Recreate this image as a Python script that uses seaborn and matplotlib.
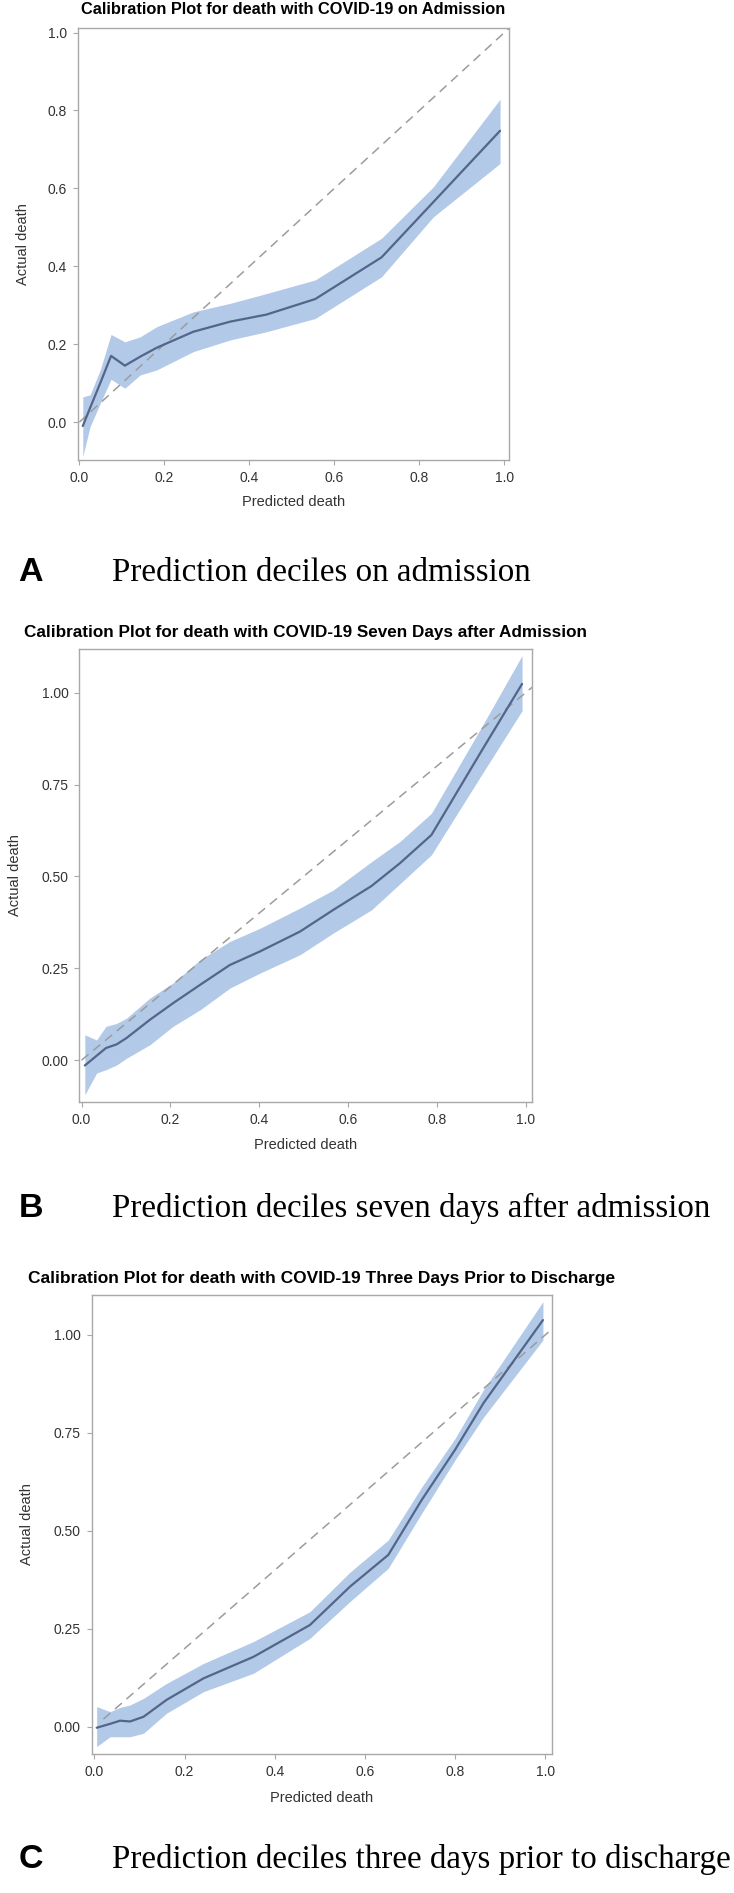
import numpy as np
import seaborn as sns
import matplotlib.pyplot as plt
from matplotlib.ticker import FormatStrFormatter


# panel A - on admission
a_pred = [0.008, 0.025, 0.049, 0.0745, 0.107, 0.143, 0.182, 0.268, 0.355, 0.44, 0.555, 0.711, 0.833, 0.99]
a_fit = [-0.01, 0.036, 0.10, 0.17, 0.145, 0.168, 0.191, 0.232, 0.258, 0.276, 0.316, 0.423, 0.565, 0.748]
a_low = [-0.088, -0.012, 0.048, 0.110, 0.087, 0.121, 0.134, 0.181, 0.211, 0.232, 0.266, 0.373, 0.527, 0.664]
a_upp = [0.065, 0.070, 0.134, 0.225, 0.206, 0.219, 0.245, 0.283, 0.305, 0.330, 0.365, 0.472, 0.604, 0.829]

# panel B - seven days after admission
b_pred = [0.0075, 0.034, 0.055, 0.079, 0.101, 0.154, 0.206, 0.267, 0.334, 0.402, 0.492, 0.567, 0.653, 0.717, 0.788, 0.90, 0.992]
b_fit = [-0.0145, 0.012, 0.033, 0.043, 0.06, 0.11, 0.155, 0.205, 0.259, 0.296, 0.35, 0.409, 0.474, 0.536, 0.613, 0.84, 1.024]
b_low = [-0.094, -0.035, -0.026, -0.013, 0.005, 0.042, 0.092, 0.137, 0.196, 0.237, 0.287, 0.346, 0.409, 0.48, 0.559, 0.775, 0.951]
b_upp = [0.069, 0.055, 0.092, 0.10, 0.114, 0.169, 0.21, 0.273, 0.323, 0.359, 0.414, 0.463, 0.54, 0.595, 0.672, 0.905, 1.101]

# panel C - three days prior to discharge
c_pred = [0.005, 0.035, 0.057, 0.079, 0.109, 0.16, 0.242, 0.353, 0.478, 0.567, 0.652, 0.726, 0.8, 0.863, 0.995]
c_fit = [-0.002, 0.008, 0.016, 0.014, 0.026, 0.069, 0.124, 0.179, 0.26, 0.358, 0.439, 0.579, 0.707, 0.826, 1.038]
c_low = [-0.05, -0.025, -0.025, -0.025, -0.016, 0.035, 0.09, 0.137, 0.226, 0.32, 0.405, 0.545, 0.681, 0.79, 0.987]
c_upp = [0.052, 0.039, 0.05, 0.056, 0.073, 0.111, 0.162, 0.218, 0.294, 0.395, 0.477, 0.612, 0.736, 0.86, 1.085]

titles = ['Calibration Plot for death with COVID-19 on Admission',
          'Calibration Plot for death with COVID-19 Seven Days after Admission',
          'Calibration Plot for death with COVID-19 Three Days Prior to Discharge']
letters = ['A', 'B', 'C']
captions = ['Prediction deciles on admission',
            'Prediction deciles seven days after admission',
            'Prediction deciles three days prior to discharge']
diag_start = [0.0, 0.0, 0.02]

W, H = 734, 1893

# pixel boxes: left, right, top, bottom
boxes = [(77.7, 509, 28.3, 460.3), (79.3, 532.3, 649.3, 1101.7), (91.7, 551.5, 1295, 1754)]
xlims = [(-0.004, 1.011), (-0.005, 1.015), (-0.006, 1.014)]
ylims = [(-0.098, 1.011), (-0.113, 1.118), (-0.069, 1.102)]
title_y = [10, 633, 1278]
title_size = [11.8, 12.3, 12.5]
caption_y = [581, 1217, 1868]
ylab_x = [23.3, 15, 26.7]
xlab_y = [501.7, 1145, 1798]

sns.set_theme(style='white')
plt.rcParams['font.family'] = ['Liberation Sans', 'DejaVu Sans']

BAND = '#b2c9e8'
LINE = '#53668a'
DIAG = '#9c9c9c'
SPINE = '#a8a8a8'
TEXT = '#333333'


def plot_panel(fig, i, pred, fit, low, upp):
    l, r, t, b = boxes[i]
    ax = fig.add_axes([l / W, 1 - b / H, (r - l) / W, (b - t) / H])

    ax.fill_between(pred, low, upp, color=BAND, lw=0, zorder=1)
    ax.plot([diag_start[i], 1.02], [diag_start[i], 1.02], color=DIAG, lw=1.1,
            dashes=(6, 4), zorder=2)
    sns.lineplot(x=pred, y=fit, ax=ax, color=LINE, lw=1.6, zorder=3)

    ax.set_xlim(*xlims[i])
    ax.set_ylim(*ylims[i])
    ax.set_xticks(np.arange(0, 1.01, 0.2))
    ax.xaxis.set_major_formatter(FormatStrFormatter('%.1f'))
    if i == 0:
        ax.set_yticks(np.arange(0, 1.01, 0.2))
        ax.yaxis.set_major_formatter(FormatStrFormatter('%.1f'))
    else:
        ax.set_yticks([0, 0.25, 0.5, 0.75, 1.0])
        ax.yaxis.set_major_formatter(FormatStrFormatter('%.2f'))

    for s in ax.spines.values():
        s.set_color(SPINE)
        s.set_linewidth(1.0)
    ax.tick_params(direction='out', length=3.6, width=0.8, color=SPINE,
                   labelcolor=TEXT, labelsize=10, pad=4.2,
                   bottom=True, left=True)

    ax.set_xlabel('Predicted death', fontsize=10.5, color=TEXT, va='center')
    ax.set_ylabel('Actual death', fontsize=10.5, color=TEXT, va='center')
    ax.xaxis.set_label_coords(0.5, -(xlab_y[i] - b) / (b - t))
    ax.yaxis.set_label_coords(-(l - ylab_x[i]) / (r - l), 0.5)

    fig.text((l + r) / 2 / W, 1 - title_y[i] / H, titles[i], ha='center', va='center',
             fontsize=title_size[i], fontweight='bold', color='black')

    fig.text(18.5 / W, 1 - caption_y[i] / H, letters[i], ha='left', va='baseline',
             fontsize=24.5, fontweight='bold', color='black')
    fig.text(112 / W, 1 - caption_y[i] / H, captions[i], ha='left', va='baseline',
             fontsize=23.8, family=['Liberation Serif', 'DejaVu Serif'], color='black')
    return ax


def main():
    fig = plt.figure(figsize=(W / 100, H / 100), dpi=100)
    fig.patch.set_facecolor('white')

    plot_panel(fig, 0, a_pred, a_fit, a_low, a_upp)
    plot_panel(fig, 1, b_pred, b_fit, b_low, b_upp)
    plot_panel(fig, 2, c_pred, c_fit, c_low, c_upp)

    fig.savefig('out.png', dpi=100, facecolor='white')


if __name__ == '__main__':
    main()
